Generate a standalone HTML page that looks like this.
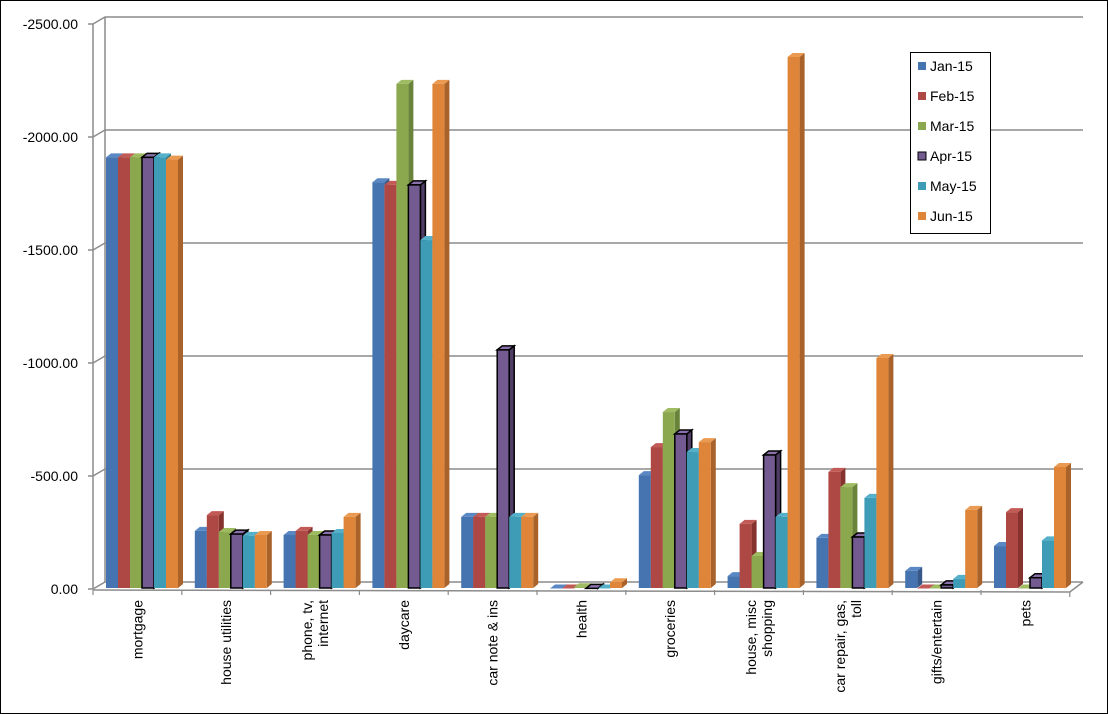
<!DOCTYPE html>
<html><head><meta charset="utf-8"><style>
html,body{margin:0;padding:0;background:#fff;}
svg{display:block;font-family:"Liberation Sans",sans-serif;}
</style></head><body>
<svg id="chart" width="1108" height="714" viewBox="0 0 1108 714" xmlns="http://www.w3.org/2000/svg">
<rect x="0.5" y="0.5" width="1107" height="713" fill="#fff" stroke="#000"/>
<g id="grid"></g><g id="bars"></g><g id="axes"></g>
<g id="legend">
<rect x="910.5" y="52.5" width="80" height="181" fill="#fff" stroke="#000"/>
</g>
</svg>
<script>
const categories=["mortgage","house utilities","phone, tv,|internet","daycare","car note & ins","health","groceries","house, misc|shopping","car repair, gas,|toll","gifts/entertain","pets"];
const seriesNames=["Jan-15","Feb-15","Mar-15","Apr-15","May-15","Jun-15"];
const jan=[1910,257,239,1800,319,2,504,57,226,80,190];
const feb=[1910,327,257,1788,319,2,628,288,518,2,340];
const mar=[1910,252,239,2235,319,8,783,146,451,2,2];
const apr=[1910,243,239,1788,1058,3,686,593,230,18,50];
const may=[1910,235,248,1544,319,2,606,319,403,45,215];
const jun=[1900,239,319,2235,319,30,650,2354,1022,350,540];
const tickValues=[0,500,1000,1500,2000,2500];
const tickLabels=["0.00","-500.00","-1000.00","-1500.00","-2000.00","-2500.00"];
const series=[jan,feb,mar,apr,may,jun];
const colors=[["#4674B1","#36598a","#5a88c4"],["#AE4844","#86332f","#c25a56"],["#8BA84F","#6a833a","#9fbc62"],["#735A91","#4f3d66","#8a70aa"],["#3E9CB6","#2d7a8f","#55b0c9"],["#DE8539","#a8622a","#eb9a52"]];
const NS="http://www.w3.org/2000/svg";
const x0=93,catW=88.8,y0=589,pxPer=113/500,DX=12,DY=-7,barW=12,dep=5,dy2=-4;
function yScale(v){return y0-v*pxPer;}
function xCat(i){return x0+i*catW;}
function mk(tag,attrs,parent){const e=document.createElementNS(NS,tag);for(const k in attrs)e.setAttribute(k,attrs[k]);parent.appendChild(e);return e;}
const grid=document.getElementById('grid'),bars=document.getElementById('bars'),axes=document.getElementById('axes'),legend=document.getElementById('legend');
// back wall gridlines
tickValues.forEach((v,i)=>{
  const y=yScale(v);
  const g=mk('polyline',{points:`${x0},${y} ${x0+DX},${y+DY} 1083,${y+DY}`,fill:'none',stroke:'#8c8c8c','stroke-width':1.5},grid);
  
  
  const t=mk('text',{x:78,y:y+5,'text-anchor':'end','font-size':14,fill:'#000'},axes);
  t.textContent=tickLabels[i];
  
  
  mk('line',{x1:88,y1:y,x2:x0,y2:y,stroke:'#8c8c8c','stroke-width':1.5},axes);
});
mk('line',{x1:x0+DX,y1:yScale(2500)+DY,x2:x0+DX,y2:y0+DY,stroke:'#8c8c8c','stroke-width':1.5},grid);
mk('line',{x1:x0,y1:yScale(2500),x2:x0,y2:y0,stroke:'#8c8c8c','stroke-width':1.5},axes);
const fl=mk('polyline',{points:`${x0},${y0+1} ${x0+categories.length*catW},${y0+3} 1083,${y0+DY}`,fill:'none',stroke:'#8c8c8c','stroke-width':1.5},axes);


// bars
categories.forEach((c,i)=>{
  const bx=xCat(i)+13;
  series.forEach((s,j)=>{
    const v=s[i];const x=bx+j*barW;const yt=yScale(v);const yb=y0-1;
    const col=colors[j];const sw=j===3?1.5:0;const st=j===3?'#000':'none';
    const g=mk('g',{},bars);
    
    
    mk('polygon',{points:`${x+barW},${yt} ${x+barW+dep},${yt+dy2} ${x+barW+dep},${yb+dy2} ${x+barW},${yb}`,fill:col[1],stroke:st,'stroke-width':sw},g);
    mk('polygon',{points:`${x},${yt} ${x+dep},${yt+dy2} ${x+barW+dep},${yt+dy2} ${x+barW},${yt}`,fill:col[2],stroke:st,'stroke-width':sw},g);
    mk('rect',{x:x,y:yt,width:barW,height:Math.max(0,yb-yt),fill:col[0],stroke:st,'stroke-width':sw},g);
  });
  // category tick and label
  mk('line',{x1:xCat(i),y1:y0+1,x2:xCat(i),y2:y0+6,stroke:'#8c8c8c','stroke-width':1.2},axes);
  const cx=xCat(i)+catW/2;const lines=c.split('|');
  const t=mk('text',{transform:`translate(${cx},600) rotate(-90)`,'text-anchor':'end','font-size':14,fill:'#000'},axes);
  
  
  lines.forEach((ln,k)=>{const ts=mk('tspan',{x:0,y:(k-(lines.length-1)/2)*16+5},t);ts.textContent=ln;});
});
mk('line',{x1:xCat(11),y1:y0+3,x2:xCat(11),y2:y0+8,stroke:'#8c8c8c','stroke-width':1.2},axes);
// legend
seriesNames.forEach((n,j)=>{
  const y=67+j*30;
  const g=mk('g',{},legend);
  
  
  mk('rect',{x:918,y:y-5,width:8,height:8,fill:colors[j][0],stroke:j===3?'#000':'none','stroke-width':1},g);
  const t=mk('text',{x:930,y:y+4,'font-size':14,fill:'#000'},g);t.textContent=n;
});
</script>
</body></html>
